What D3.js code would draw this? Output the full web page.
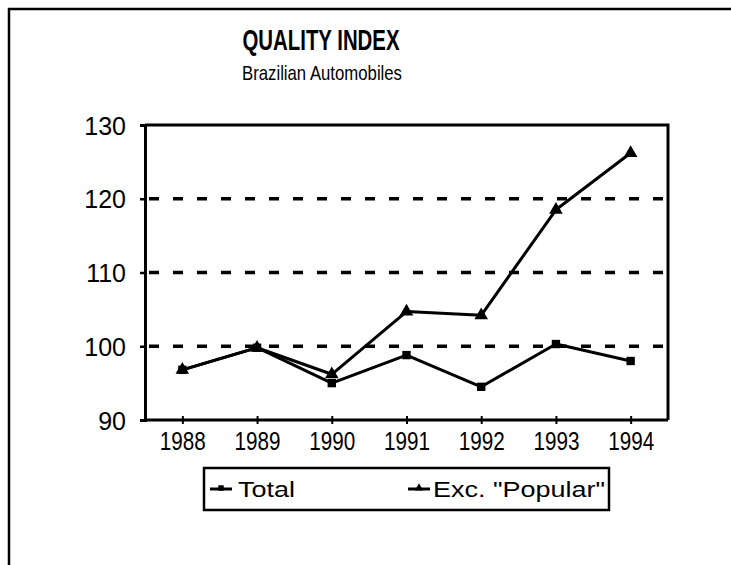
<!DOCTYPE html>
<html>
<head>
<meta charset="utf-8">
<script src="https://cdn.jsdelivr.net/npm/d3@7"></script>
<style>
  body { margin: 0; background: #fff; }
  svg { display: block; }
  text { font-family: "Liberation Sans", Arial, sans-serif; fill: #000; }
</style>
</head>
<body>
<div id="chart"></div>
<script>
// Chart data
const years = ["1988", "1989", "1990", "1991", "1992", "1993", "1994"];
const total_values = [96.8, 99.8, 95.0, 98.8, 94.5, 100.3, 98.0];
const exc_popular_values = [96.8, 99.8, 96.2, 104.7, 104.2, 118.5, 126.2];
const y_ticks = [90, 100, 110, 120, 130];
const grid_values = [100, 110, 120];
const series_names = ["Total", "Exc. \"Popular\""];

const width = 731;
const height = 565;

// plot frame
const plot = {left: 145, right: 668, top: 125, bottom: 420};

let svg = d3.select("#chart")
  .append("svg")
  .attr("width", width)
  .attr("height", height)

// outer frame: only top and left edges show on the scan
svg.append("path")
  .attr("d", `M9,${height} V9 H${width}`)
  .attr("fill", "none")
  .attr("stroke", "#000")
  .attr("stroke-width", 2.5)

// titles
svg.append("text")
  .attr("x", 321)
  .attr("y", 50)
  .attr("text-anchor", "middle")
  .attr("font-size", 30)
  .attr("font-weight", "bold")
  .attr("textLength", 157)
  .attr("lengthAdjust", "spacingAndGlyphs")
  .text("QUALITY INDEX")

svg.append("text")
  .attr("x", 322)
  .attr("y", 80)
  .attr("text-anchor", "middle")
  .attr("font-size", 21)
  .attr("textLength", 160)
  .attr("lengthAdjust", "spacingAndGlyphs")
  .text("Brazilian Automobiles")

// scales
let x = d3.scalePoint()
  .domain(years)
  .range([plot.left, plot.right])
  .padding(0.5)

let y = d3.scaleLinear()
  .domain([90, 130])
  .range([plot.bottom, plot.top])

// dashed grid lines
svg.append("g")
  .selectAll("line")
  .data(grid_values)
  .join("line")
  .attr("x1", plot.left + 4)
  .attr("x2", plot.right - 2)
  .attr("y1", d => y(d))
  .attr("y2", d => y(d))
  .attr("stroke", "#000")
  .attr("stroke-width", 3.5)
  .attr("stroke-dasharray", "10,14")

// plot border (top and right)
svg.append("path")
  .attr("d", `M${plot.left},${plot.top} H${plot.right} V${plot.bottom}`)
  .attr("fill", "none")
  .attr("stroke", "#000")
  .attr("stroke-width", 3)

// y axis
let y_axis = svg.append("g")
  .attr("transform", `translate(${plot.left},0)`)
  .call(d3.axisLeft(y).tickValues(y_ticks).tickSize(5).tickPadding(14))
y_axis.select(".domain")
  .attr("stroke-width", 3)
y_axis.selectAll(".tick line")
  .attr("stroke-width", 2.5)
y_axis.selectAll("text")
  .attr("font-size", 25)
  .attr("font-family", "\"Liberation Sans\", Arial, sans-serif")
  .attr("dy", "0.36em")

// x axis
let x_axis = svg.append("g")
  .attr("transform", `translate(0,${plot.bottom})`)
  .call(d3.axisBottom(x).tickSize(4).tickSizeOuter(0).tickPadding(8))
x_axis.select(".domain")
  .attr("d", `M${plot.left},0H${plot.right}`)
  .attr("stroke-width", 3)
x_axis.selectAll(".tick line")
  .attr("y1", -4)
  .attr("stroke-width", 2)
x_axis.selectAll("text")
  .attr("font-size", 25)
  .attr("font-family", "\"Liberation Sans\", Arial, sans-serif")
  .attr("textLength", 46)
  .attr("lengthAdjust", "spacingAndGlyphs")

/**
 * Draws one series: polyline plus markers.
 * @param values - series values
 * @param marker - d3 symbol type
 * @param size - symbol area
 */
function draw_series(values, marker, size){
  let line = d3.line()
    .x((d, i) => x(years[i]))
    .y(d => y(d))

  svg.append("path")
    .datum(values)
    .attr("d", line)
    .attr("fill", "none")
    .attr("stroke", "#000")
    .attr("stroke-width", 3)
    .attr("stroke-linejoin", "round")

  svg.append("g")
    .selectAll("path")
    .data(values)
    .join("path")
    .attr("transform", (d, i) => `translate(${x(years[i])},${y(d)})`)
    .attr("d", d3.symbol().type(marker).size(size))
    .attr("fill", "#000")
}

draw_series(total_values, d3.symbolSquare, 70)
draw_series(exc_popular_values, d3.symbolTriangle, 80)

// legend
const legend = {left: 204, top: 468, right: 609, bottom: 510};
svg.append("rect")
  .attr("x", legend.left)
  .attr("y", legend.top)
  .attr("width", legend.right - legend.left)
  .attr("height", legend.bottom - legend.top)
  .attr("fill", "none")
  .attr("stroke", "#000")
  .attr("stroke-width", 2.5)

const legend_items = [
  {name: series_names[0], sx: 210, tx: 238, len: 57, marker: d3.symbolSquare},
  {name: series_names[1], sx: 408, tx: 433, len: 172, marker: d3.symbolTriangle}
];
const legend_y = 489;

let items = svg.append("g")
  .selectAll("g")
  .data(legend_items)
  .join("g")

items.append("line")
  .attr("x1", d => d.sx)
  .attr("x2", d => d.sx + 22)
  .attr("y1", legend_y)
  .attr("y2", legend_y)
  .attr("stroke", "#000")
  .attr("stroke-width", 3)

items.append("path")
  .attr("transform", d => `translate(${d.sx + 11},${legend_y - 1})`)
  .attr("d", d => d3.symbol().type(d.marker).size(30)())
  .attr("fill", "#000")

items.append("text")
  .attr("x", d => d.tx)
  .attr("y", legend_y + 8)
  .attr("font-size", 22)
  .attr("textLength", d => d.len)
  .attr("lengthAdjust", "spacingAndGlyphs")
  .text(d => d.name)
</script>
</body>
</html>
